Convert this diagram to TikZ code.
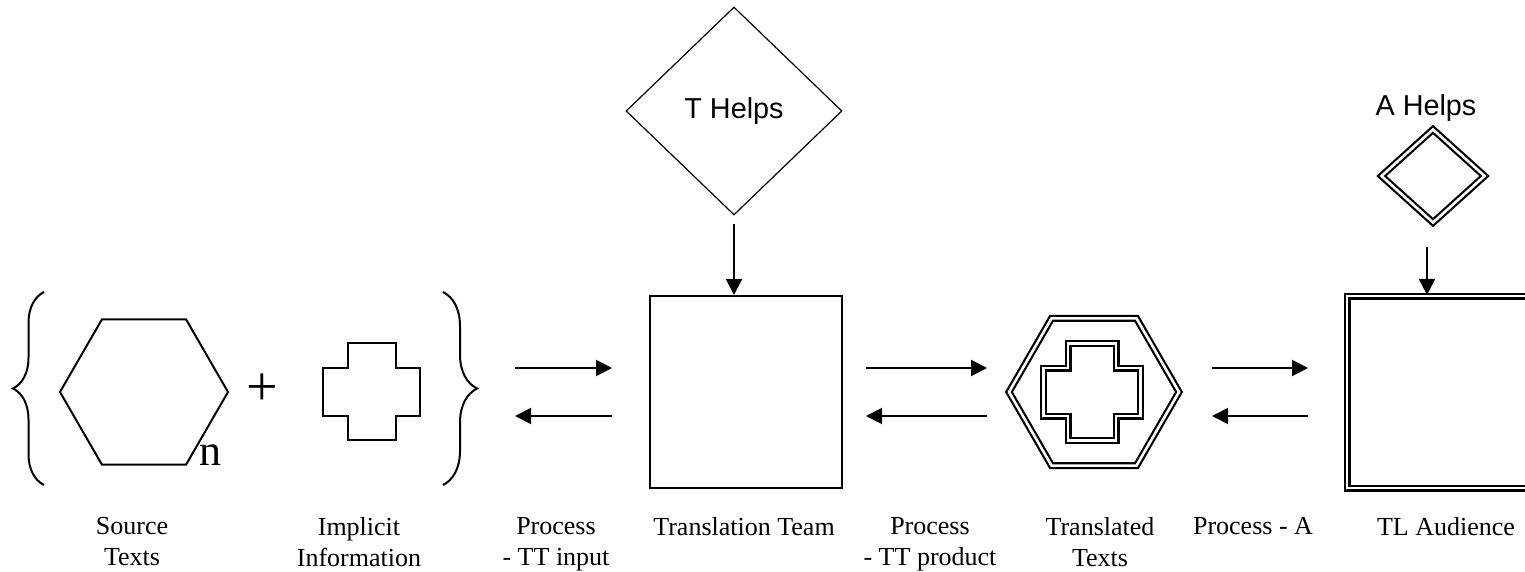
\documentclass[tikz,border=0pt]{standalone}
\usepackage{fontspec}
\setmainfont{Liberation Serif}
\newfontfamily\helpfont{Liberation Sans}
\usetikzlibrary{shapes.geometric,arrows.meta,decorations.pathreplacing}

\begin{document}
\begin{tikzpicture}[x=0.5pt, y=-0.5pt, line width=1pt,
    >={Triangle[length=8pt,width=8pt]},
    lbl/.style={anchor=north, inner sep=0pt, align=center, font=\fontsize{13}{15.5}\selectfont},
    helps/.style={font=\helpfont\fontsize{14.4}{14.4}\selectfont},
    hex/.style={draw, regular polygon, regular polygon sides=6, minimum size=#1, inner sep=0pt},
    dbl/.style={double, double distance=1.3pt, line width=1.1pt},
    brc/.style={decorate, decoration={brace, amplitude=#1}},
    plusbox/.pic={
      \draw[pic actions] (-48.5,-24) -- (-24,-24) -- (-24,-48.5) -- (24,-48.5) -- (24,-24) -- (48.5,-24)
        -- (48.5,24) -- (24,24) -- (24,48.5) -- (-24,48.5) -- (-24,24) -- (-48.5,24) -- cycle;
    }]

    \useasboundingbox (0,0) rectangle (1525,572);
    \clip (0,0) rectangle (1525,572);

    % source side
    \node[hex=84pt] (s) at (144,392) {};
    \node[inner sep=0pt, anchor=base, font=\fontsize{22}{22}\selectfont] (n) at (210,465) {n};
    \node[inner sep=0pt, font=\fontsize{28}{28}\selectfont] (p) at (262,390) {+};
    \pic at (371.5,391.5) {plusbox};
    \draw[brc=15.5pt] (44,485) -- (44,292);
    \draw[brc=17pt] (443,292) -- (443,485);

    % team and helps
    \node[draw, minimum size=96pt, inner sep=0pt] (t) at (746,392) {};
    \node[draw, diamond, minimum width=108pt, minimum height=104pt, inner sep=0pt,
          line width=0.6pt, helps] (th) at (734,111) {T Helps};
    \draw[->] ([yshift=-4pt]th.south) -- (th.south |- t.north);

    % translated texts
    \node[hex=85pt, dbl] (x) at (1094,392) {};
    \pic[dbl] at (1092,392) {plusbox};

    % audience and helps
    \node[draw, dbl, minimum size=96pt, inner sep=0pt] (a) at (1443,392) {};
    \node[draw, diamond, dbl, minimum width=52pt, minimum height=47pt, inner sep=0pt] (ah) at (1433,176) {};
    \node[helps, inner sep=0pt] (ahl) at (1426,108) {A Helps};
    \coordinate (ahs) at (1427,247);
    \draw[->] (ahs) -- (ahs |- a.north);

    % process arrows
    \foreach \k/\l/\r in {in/515/612, pr/866/987, au/1212/1308} {
      \coordinate (\k-l) at (\l,368);
      \coordinate (\k-r) at (\r,368);
      \coordinate (\k-bl) at (\l,416);
      \coordinate (\k-br) at (\r,416);
    }
    \draw[->] (in-l) -- (in-r);
    \draw[->] (in-br) -- (in-bl);
    \draw[->] (pr-l) -- (pr-r);
    \draw[->] (pr-br) -- (pr-bl);
    \draw[->] (au-l) -- (au-r);
    \draw[->] (au-br) -- (au-bl);

    % labels
    \node[lbl] (ls) at (132,516) {Source\\Texts};
    \node[lbl] (li) at (359,516) {Implicit\\Information};
    \node[lbl] (lp) at (556,516) {Process\\- TT input};
    \node[lbl] (lt) at (744,516) {Translation Team};
    \node[lbl] (lq) at (930,516) {Process\\- TT product};
    \node[lbl] (lx) at (1100,516) {Translated\\Texts};
    \node[lbl] (lr) at (1253,516) {Process - A};
    \node[lbl] (la) at (1446,516) {TL Audience};

\end{tikzpicture}
\end{document}
